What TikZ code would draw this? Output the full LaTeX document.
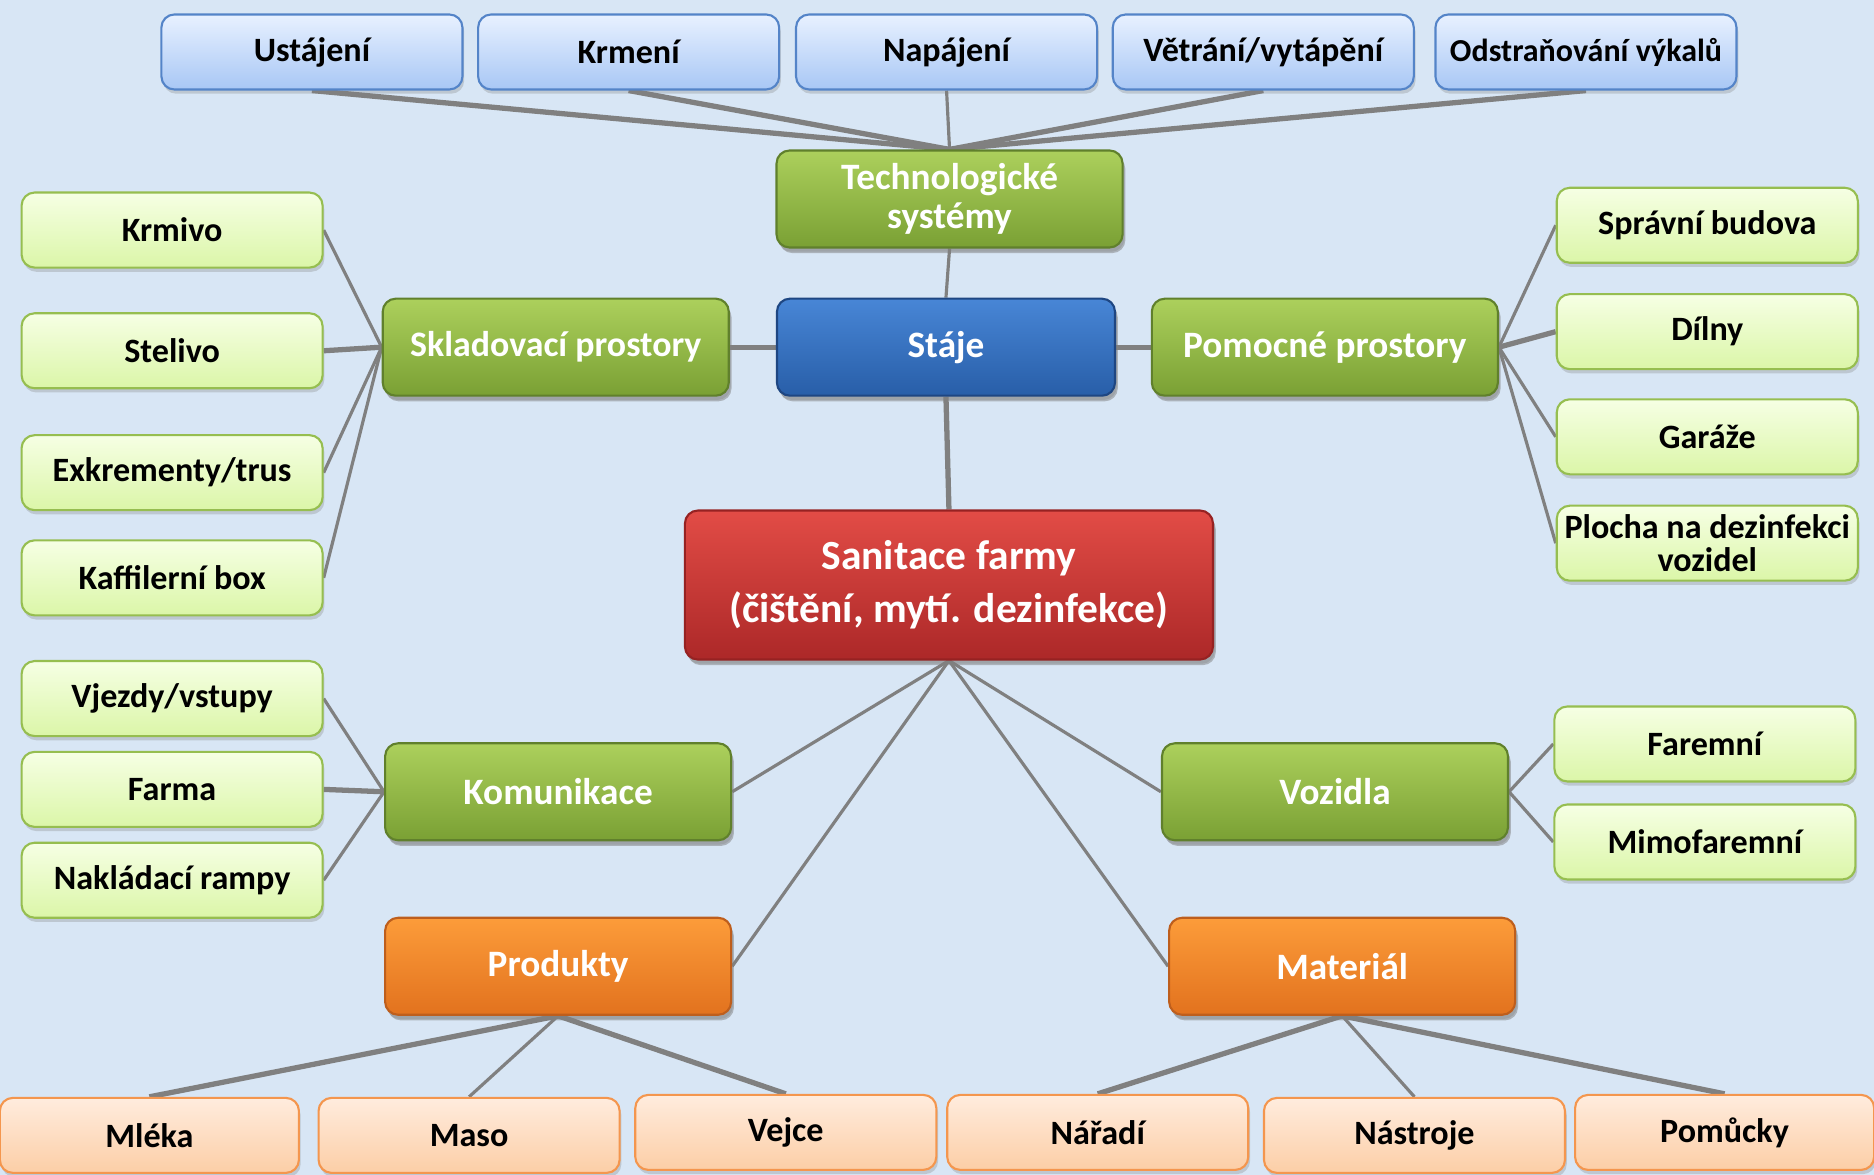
\documentclass[tikz,border=0pt]{standalone}
\usepackage{fontspec}
\setmainfont{Carlito}
\usetikzlibrary{shadows,backgrounds}

\definecolor{bgblue}{RGB}{216,230,245}
\definecolor{linkgray}{RGB}{128,128,128}
\definecolor{toptop}{RGB}{232,241,255}
\definecolor{topbot}{RGB}{168,199,245}
\definecolor{topline}{RGB}{84,132,200}
\definecolor{leaftop}{RGB}{246,255,228}
\definecolor{leafbot}{RGB}{219,246,168}
\definecolor{leafline}{RGB}{150,190,80}
\definecolor{grptop}{RGB}{172,208,92}
\definecolor{grpbot}{RGB}{122,160,52}
\definecolor{grpline}{RGB}{96,128,44}
\definecolor{hubtop}{RGB}{72,134,214}
\definecolor{hubbot}{RGB}{40,94,168}
\definecolor{hubline}{RGB}{30,70,130}
\definecolor{roottop}{RGB}{226,76,70}
\definecolor{rootbot}{RGB}{172,40,40}
\definecolor{rootline}{RGB}{150,34,34}
\definecolor{prodtop}{RGB}{252,156,58}
\definecolor{prodbot}{RGB}{226,114,30}
\definecolor{prodline}{RGB}{190,94,28}
\definecolor{pleaftop}{RGB}{255,236,222}
\definecolor{pleafbot}{RGB}{252,206,166}
\definecolor{pleafline}{RGB}{244,150,78}

\begin{document}
\begin{tikzpicture}[x=1.195cm, y=-1.195cm,
    box/.style={rounded corners=0.13cm, align=center, inner sep=1pt, line width=0.6pt,
        font=\bfseries\fontsize{9.7}{9.6}\selectfont,
        minimum width=3.01cm, minimum height=0.75cm,
        drop shadow={shadow xshift=0.5pt, shadow yshift=-1.2pt, opacity=0.3}},
    topbox/.style={box, draw=topline, top color=toptop, bottom color=topbot},
    leafbox/.style={box, draw=leafline, top color=leaftop, bottom color=leafbot},
    pleafbox/.style={box, draw=pleafline, top color=pleaftop, bottom color=pleafbot},
    grpbox/.style={box, draw=grpline, top color=grptop, bottom color=grpbot, text=white,
        font=\bfseries\fontsize{10.6}{10.9}\selectfont,
        minimum width=3.46cm, minimum height=0.97cm,
        drop shadow={shadow xshift=0.8pt, shadow yshift=-1.6pt, opacity=0.5}},
    hubbox/.style={grpbox, draw=hubline, top color=hubtop, bottom color=hubbot},
    prodbox/.style={grpbox, draw=prodline, top color=prodtop, bottom color=prodbot},
    rootbox/.style={grpbox, draw=rootline, top color=roottop, bottom color=rootbot,
        font=\bfseries\fontsize{11.8}{15}\selectfont,
        minimum width=5.28cm, minimum height=1.49cm},
    link/.style={draw=linkgray, line width=0.9pt},
    heavylink/.style={draw=linkgray, line width=1.5pt}
]

    \useasboundingbox (0,0) rectangle (15.68,9.83);
    \begin{scope}[on background layer]
        \fill[bgblue] (0,0) rectangle (15.68,9.83);
    \end{scope}

    % --- Technological systems ---
    \node[topbox] (ustajeni) at (2.61,0.435) {Ustájení};
    \node[topbox] (krmeni) at (5.26,0.435) {Krmení};
    \node[topbox] (napajeni) at (7.92,0.435) {Napájení};
    \node[topbox] (vetrani) at (10.57,0.435) {Větrání/vytápění};
    \node[topbox, font=\bfseries\fontsize{9.1}{9.6}\selectfont] (odstranovani) at (13.27,0.435) {Odstraňování výkalů};
    \node[grpbox] (tech) at (7.945,1.665) {Technologické\\systémy};

    % --- Middle row ---
    \node[hubbox, minimum width=3.38cm] (staje) at (7.915,2.905) {Stáje};
    \node[grpbox, font=\bfseries\fontsize{10.2}{10.9}\selectfont] (sklad) at (4.65,2.905) {Skladovací prostory};
    \node[grpbox] (pomocne) at (11.085,2.905) {Pomocné prostory};

    % Storage
    \node[leafbox] (krmivo) at (1.44,1.925) {Krmivo};
    \node[leafbox] (stelivo) at (1.44,2.935) {Stelivo};
    \node[leafbox] (exkrementy) at (1.44,3.955) {Exkrementy/trus};
    \node[leafbox] (kafilerni) at (1.44,4.835) {Kaffilerní box};

    % Auxiliary rooms
    \node[leafbox] (spravni) at (14.285,1.885) {Správní budova};
    \node[leafbox] (dilny) at (14.285,2.775) {Dílny};
    \node[leafbox] (garaze) at (14.285,3.655) {Garáže};
    \node[leafbox, font=\bfseries\fontsize{9.7}{9.3}\selectfont] (plocha) at (14.285,4.545) {Plocha na dezinfekci\\vozidel};

    % --- Centre ---
    \node[rootbox] (sanitace) at (7.94,4.895) {Sanitace farmy\\(čištění, mytí. dezinfekce)};

    % Roads
    \node[grpbox] (komunikace) at (4.67,6.625) {Komunikace};
    \node[leafbox] (vjezdy) at (1.44,5.845) {Vjezdy/vstupy};
    \node[leafbox] (farma) at (1.44,6.605) {Farma};
    \node[leafbox] (rampy) at (1.44,7.365) {Nakládací rampy};

    % Vehicles
    \node[grpbox] (vozidla) at (11.17,6.625) {Vozidla};
    \node[leafbox] (faremni) at (14.265,6.225) {Faremní};
    \node[leafbox] (mimofaremni) at (14.265,7.045) {Mimofaremní};

    % --- Products and material ---
    \node[prodbox] (produkty) at (4.67,8.085) {Produkty};
    \node[prodbox] (material) at (11.23,8.085) {Materiál};
    \node[pleafbox, minimum width=2.99cm] (mleka) at (1.25,9.5) {Mléka};
    \node[pleafbox] (maso) at (3.925,9.5) {Maso};
    \node[pleafbox] (vejce) at (6.575,9.475) {Vejce};
    \node[pleafbox] (naradi) at (9.185,9.475) {Nářadí};
    \node[pleafbox] (nastroje) at (11.835,9.5) {Nástroje};
    \node[pleafbox, minimum width=2.99cm] (pomucky) at (14.43,9.475) {Pomůcky};

    % --- Connectors ---
    \begin{scope}[on background layer]
        \draw[heavylink] (ustajeni.south) -- (tech.north);
        \draw[heavylink] (krmeni.south) -- (tech.north);
        \draw[link] (napajeni.south) -- (tech.north);
        \draw[heavylink] (vetrani.south) -- (tech.north);
        \draw[heavylink] (odstranovani.south) -- (tech.north);
        \draw[link] (tech.south) -- (staje.north);

        \draw[heavylink] (sklad.east) -- (staje.west);
        \draw[heavylink] (staje.east) -- (pomocne.west);
        \draw[link] (sklad.west) -- (krmivo.east);
        \draw[heavylink] (sklad.west) -- (stelivo.east);
        \draw[link] (sklad.west) -- (exkrementy.east);
        \draw[link] (sklad.west) -- (kafilerni.east);
        \draw[link] (pomocne.east) -- (spravni.west);
        \draw[heavylink] (pomocne.east) -- (dilny.west);
        \draw[link] (pomocne.east) -- (garaze.west);
        \draw[link] (pomocne.east) -- (plocha.west);

        \draw[heavylink] (staje.south) -- (sanitace.north);
        \draw[link] (sanitace.south) -- (komunikace.east);
        \draw[link] (sanitace.south) -- (produkty.east);
        \draw[link] (sanitace.south) -- (vozidla.west);
        \draw[link] (sanitace.south) -- (material.west);

        \draw[link] (komunikace.west) -- (vjezdy.east);
        \draw[heavylink] (komunikace.west) -- (farma.east);
        \draw[link] (komunikace.west) -- (rampy.east);
        \draw[link] (vozidla.east) -- (faremni.west);
        \draw[link] (vozidla.east) -- (mimofaremni.west);

        \draw[heavylink] (produkty.south) -- (mleka.north);
        \draw[link] (produkty.south) -- (maso.north);
        \draw[heavylink] (produkty.south) -- (vejce.north);
        \draw[heavylink] (material.south) -- (naradi.north);
        \draw[link] (material.south) -- (nastroje.north);
        \draw[heavylink] (material.south) -- (pomucky.north);
    \end{scope}

\end{tikzpicture}
\end{document}
